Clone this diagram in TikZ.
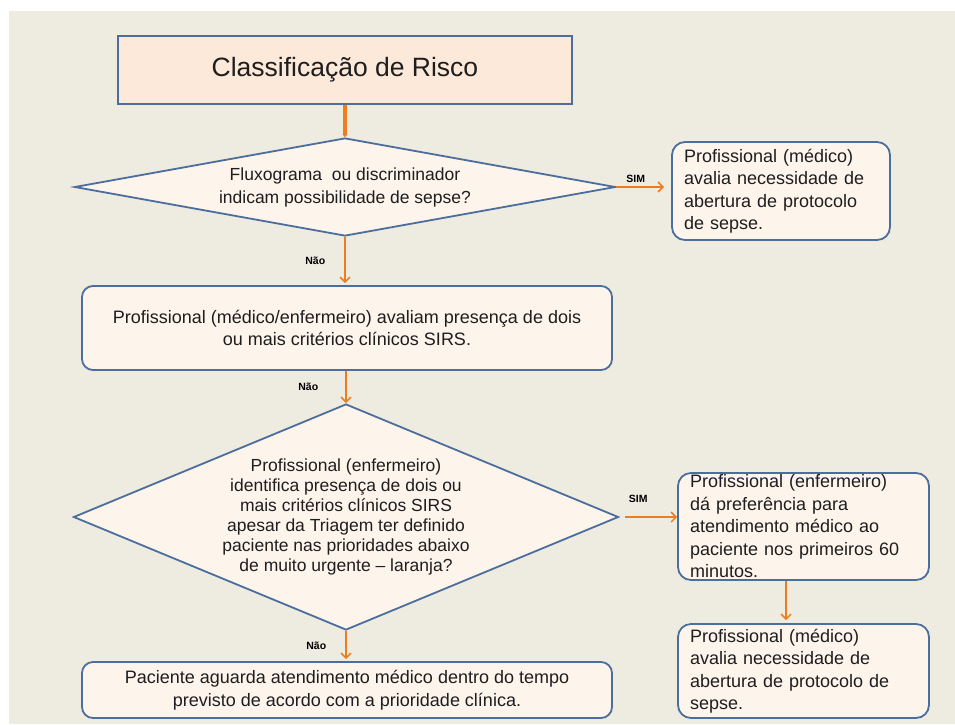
\documentclass[tikz,border=0pt]{standalone}
\usepackage{fontspec}
\setmainfont{Liberation Sans}
\usetikzlibrary{shapes.geometric,arrows.meta}
\definecolor{fundo}{HTML}{EEEBE0}
\definecolor{pessego}{HTML}{FDE9D9}
\definecolor{claro}{HTML}{FDF4EC}
\definecolor{borda}{HTML}{4C6E9C}
\definecolor{laranja}{HTML}{EE7D22}
\definecolor{texto}{HTML}{1E1E1E}
\def\bw{1.8pt}
\def\fs{18}

\begin{document}
\begin{tikzpicture}[x=1pt,y=-1pt]
	\tikzset{caixa/.style={draw=borda, line width=\bw, fill=claro, rounded corners=13pt, text=texto, font=\fontsize{\fs}{22.5}\selectfont},
		losango/.style={draw=borda, line width=\bw, fill=claro, diamond, inner sep=0pt, align=center, text=texto, font=\fontsize{17.5}{20}\selectfont},
		seta/.style={draw=laranja, line width=1.5pt, -{Straight Barb[length=5pt,width=10pt,line width=1.5pt]}},
		rot/.style={text=black, inner sep=1pt, font=\fontsize{10.5}{12}\selectfont\bfseries}}
	\useasboundingbox (0,0) rectangle (955,724);
	\fill[white] (0,0) rectangle (955,724);
	\fill[fundo] (9,11) rectangle (955,724);
	\node[draw=borda, line width=\bw, fill=pessego, minimum width=454pt, minimum height=68pt, text=texto, font=\fontsize{26.5}{30}\selectfont](risco) at (345,70){Classificação de Risco};
	\node[losango, shape aspect=5.5, minimum width=541pt, minimum height=98pt, font=\fontsize{17.5}{23}\selectfont](sepse) at (345,187){Fluxograma \ ou discriminador\\indicam possibilidade de sepse?};
	\node[caixa, align=left, text width=194pt, inner xsep=12pt, inner ysep=2pt, minimum height=98pt](medico1) at (781,191){Profissional (médico)\\avalia necessidade de\\abertura de protocolo\\de sepse.};
	\node[caixa, align=center, minimum width=530pt, minimum height=84pt, rounded corners=11pt](sirs) at (347,328){Profissional (médico/enfermeiro) avaliam presença de dois\\ou mais critérios clínicos SIRS.};
	\node[losango, shape aspect=2.4, minimum width=545pt, minimum height=226pt](triagem) at (346,517){Profissional (enfermeiro)\\identifica presença de dois ou\\mais critérios clínicos SIRS\\apesar da Triagem ter definido\\paciente nas prioridades abaixo\\de muito urgente -- laranja?};
	\node[caixa, align=left, text width=227pt, inner xsep=12pt, inner ysep=0pt, minimum height=107pt](enf) at (803.5,526.5){Profissional (enfermeiro)\\dá preferência para\\atendimento médico ao\\paciente nos primeiros 60\\minutos.};
	\node[caixa, align=left, text width=227pt, inner xsep=12pt, inner ysep=0pt, minimum height=94pt](medico2) at (803.5,671){Profissional (médico)\\avalia necessidade de\\abertura de protocolo de\\sepse.};
	\node[caixa, align=center, minimum width=530pt, minimum height=56pt, inner ysep=0pt, rounded corners=11pt](aguarda) at (347,690){Paciente aguarda atendimento médico dentro do tempo\\previsto de acordo com a prioridade clínica.};
	\draw[draw=laranja, line width=4pt, -{Triangle[length=3pt,width=5pt]}] (risco.south) -- (sepse.north);
	\draw[seta, shorten >=7pt] (sepse.east) -- node[rot, above=3pt, xshift=-8pt]{SIM} (sepse.east -| medico1.west);
	\draw[seta, shorten >=2pt] (sepse.south) -- node[rot, left=18pt]{Não} (sepse.south |- sirs.north);
	\draw[seta] (sirs.south -| triagem.north) -- node[rot, left=26pt]{Não} (triagem.north);
	\draw[seta, shorten <=6pt] (triagem.east) -- node[rot, above=13pt, xshift=-10pt]{SIM} (triagem.east -| enf.west);
	\draw[seta, shorten >=3pt] ([xshift=-17.5pt]enf.south) -- ([xshift=-17.5pt]medico2.north);
	\draw[seta, shorten >=2pt] (triagem.south) -- node[rot, left=18pt]{Não} (triagem.south |- aguarda.north);
\end{tikzpicture}
\end{document}
